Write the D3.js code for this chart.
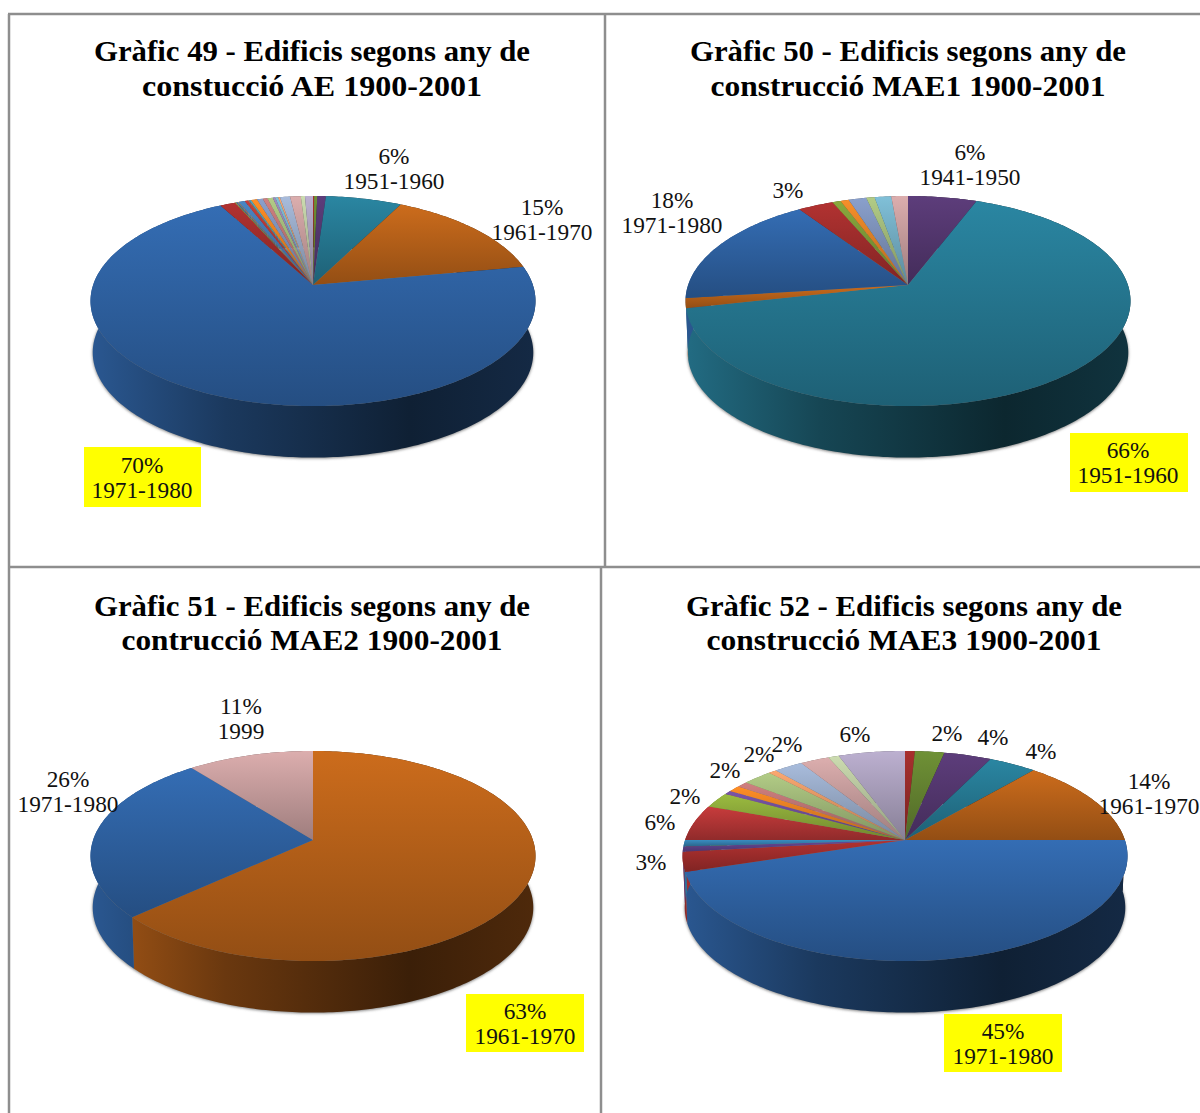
<!DOCTYPE html>
<html>
<head>
<meta charset="utf-8">
<script src="https://cdn.jsdelivr.net/npm/d3@7"></script>
<style>
  html, body { margin: 0; padding: 0; background: #fff; }
  svg { display: block; }
  .title { font-family: "Liberation Serif", serif; font-weight: bold; font-size: 30px; text-anchor: middle; fill: #000; }
  .lbl { font-family: "Liberation Serif", serif; font-size: 23.3px; text-anchor: middle; fill: #111; }
</style>
</head>
<body>
<div id="chart"></div>
<script>
// categories in the order of the source tables
var categories = ["1900-1920", "1921-1930", "1931-1940", "1941-1950", "1951-1960", "1961-1970", "1971-1980",
  "1981", "1982", "1983", "1984", "1985", "1986", "1987", "1988", "1989", "1990", "1991", "1992", "1993",
  "1994", "1995", "1996", "1997", "1998", "1999", "2000", "2001"];

// percentages
var valuesAE   = [0, 0.1, 0.26, 0.72, 6.4, 14.6, 70, 1.3, 0.1, 0.05, 0.1, 0.05, 0.55, 0.3, 0.05, 0.05, 0.15, 0.5, 0.5, 0.4, 0.45, 0.2, 0.25, 0.15, 0.85, 0.9, 0.35, 0.67];
var valuesMAE1 = [0, 0, 0, 5.8, 65.7, 1.5, 17.6, 3, 0.7, 0, 0, 0.7, 0, 0, 0, 0, 0, 0, 1.5, 0, 0.7, 0, 1.4, 0, 0, 1.4, 0, 0];
var valuesMAE2 = [0, 0, 0, 0, 0, 63.2, 26.2, 0, 0, 0, 0, 0, 0, 0, 0, 0, 0, 0, 0, 0, 0, 0, 0, 0, 0, 10.6, 0, 0];
var valuesMAE3 = [0, 0.83, 2.47, 4, 4, 13.7, 45.2, 3, 0, 0.8, 1, 0, 0, 5.6, 2.4, 0.6, 0, 1, 0, 0.9, 2.45, 0, 0, 0.7, 2.4, 2.45, 0.9, 5.6];

var titles = [
  ["Gràfic 49 - Edificis segons any de", "constucció AE 1900-2001"],
  ["Gràfic 50 - Edificis segons any de", "construcció MAE1 1900-2001"],
  ["Gràfic 51 - Edificis segons any de", "contrucció MAE2 1900-2001"],
  ["Gràfic 52 - Edificis segons any de", "construcció MAE3 1900-2001"]
];

// colour of each category
var palette = ["#3a6db2", "#a8302e", "#6f9136", "#5d3d7b", "#2a86a2", "#cc6c1c", "#346db4",
  "#b23231", "#8aa93d", "#6a4a9a", "#3a8cc0", "#f78f2a", "#4a86c4", "#c83c3c", "#9bbb40", "#7a55a8",
  "#4bacc6", "#ff8e26", "#8aa0cc", "#d08080", "#b2cc86", "#a08cc0", "#80c0d8", "#fca870",
  "#a8bcdc", "#dcaeae", "#ccdcb0", "#bcb0d0"];

// one entry per pie: where it sits and which labels are shown
var pies = [
  { values: valuesAE, cx: 313, cy: 285, titleX: 312, titleY: 61, titleGap: 35, titleW: [436, 340],
    labels: [[4, 394, 164, 1], [5, 542, 215, 1], [6, 142, 473, 1, [84, 447, 117, 60]]] },
  { values: valuesMAE1, cx: 908, cy: 285, titleX: 908, titleY: 61, titleGap: 35, titleW: [436, 395],
    labels: [[3, 970, 160, 1], [7, 788, 198, 0], [6, 672, 208, 1], [4, 1128, 458, 1, [1070, 433, 118, 59]]] },
  { values: valuesMAE2, cx: 313, cy: 840, titleX: 312, titleY: 616, titleGap: 34, titleW: [436, 381],
    labels: [[25, 241, 714, 1], [6, 68, 787, 1], [5, 525, 1019, 1, [466, 994, 118, 58]]] },
  { values: valuesMAE3, cx: 905, cy: 840, titleX: 904, titleY: 616, titleGap: 34, titleW: [436, 395],
    labels: [[2, 947, 741, 0], [3, 993, 745, 0], [4, 1041, 759, 0], [5, 1149, 789, 1], [27, 855, 742, 0],
      [25, 787, 752, 0], [24, 759, 762, 0], [20, 725, 778, 0], [14, 685, 804, 0], [13, 660, 830, 0], [7, 651, 870, 0],
      [6, 1003, 1039, 1, [944, 1014, 118, 58]]] }
];

var width = 1200;
var height = 1113;

var radX = 219.9;
var radY = 102.6;
var persp = 0.1524;
var depth = 51.5;
var baseScale = 0.99;

var svg = d3.select("#chart")
  .append("svg")
  .attr("width", width)
  .attr("height", height);

var defs = svg.append("defs");

defs.append("filter")
  .attr("id", "blur")
  .attr("x", "-5%").attr("y", "-5%").attr("width", "110%").attr("height", "110%")
  .append("feGaussianBlur")
  .attr("stdDeviation", 1.6);

function shade(col, f) {
  var c = d3.rgb(col);
  return d3.rgb(c.r * f, c.g * f, c.b * f).formatHex();
}

// top face: each slice fades downwards inside its own box
palette.forEach(function(col, i) {
  var g = defs.append("linearGradient")
    .attr("id", "face" + i)
    .attr("x1", 0).attr("y1", 0).attr("x2", 0).attr("y2", 1);
  g.append("stop").attr("offset", 0).attr("stop-color", col);
  g.append("stop").attr("offset", 1).attr("stop-color", shade(col, 0.72));
});

// point on the tilted disc, angle clockwise from 12 o'clock
function project(p, a, scale, dy) {
  var u = Math.sin(a);
  var v = Math.cos(a);
  var w = 1 + persp * v;
  return [p.cx + scale * radX * u / w, p.cy + dy - radY * v / w];
}

function arcPoints(p, a0, a1, scale, dy) {
  var n = Math.max(2, Math.ceil((a1 - a0) / (Math.PI / 180)));
  return d3.range(n + 1).map(function(k) {
    return project(p, a0 + (a1 - a0) * k / n, scale, dy);
  });
}

var line = d3.line();
var pie = d3.pie().sort(null);

pies.forEach(function(p, pi) {
  var g = svg.append("g");

  // wall gradients run across the whole pie
  palette.forEach(function(col, i) {
    var grad = defs.append("linearGradient")
      .attr("id", "wall" + pi + "_" + i)
      .attr("gradientUnits", "userSpaceOnUse")
      .attr("x1", p.cx - 220).attr("y1", 0)
      .attr("x2", p.cx + 220).attr("y2", 0);
    [[0, 0.8], [0.3, 0.52], [0.72, 0.29], [1, 0.38]].forEach(function(s) {
      grad.append("stop").attr("offset", s[0]).attr("stop-color", shade(col, s[1]));
    });
  });

  var arcs = pie(p.values).filter(function(d) { return d.value > 0; });

  // soft shadow under the pie
  g.append("path")
    .attr("d", line(arcPoints(p, 0, 2 * Math.PI, baseScale, depth + 0.8)) + "Z")
    .attr("fill", "#777")
    .attr("filter", "url(#blur)");

  g.selectAll(".wall")
    .data(arcs)
    .enter()
    .append("path")
    .attr("class", "wall")
    .attr("fill", function(d) { return "url(#wall" + pi + "_" + d.index + ")"; })
    .attr("d", function(d) {
      var top = arcPoints(p, d.startAngle, d.endAngle, 1, 0);
      var bottom = arcPoints(p, d.startAngle, d.endAngle, baseScale, depth).reverse();
      return line(top.concat(bottom)) + "Z";
    });

  g.selectAll(".slice")
    .data(arcs)
    .enter()
    .append("path")
    .attr("class", "slice")
    .attr("fill", function(d) { return "url(#face" + d.index + ")"; })
    .attr("d", function(d) {
      return line([[p.cx, p.cy]].concat(arcPoints(p, d.startAngle, d.endAngle, 1, 0))) + "Z";
    });

  // titles, stretched to the width they have in the source
  titles[pi].forEach(function(t, k) {
    g.append("text")
      .attr("class", "title")
      .attr("x", p.titleX)
      .attr("y", p.titleY + k * p.titleGap)
      .attr("textLength", p.titleW[k])
      .attr("lengthAdjust", "spacingAndGlyphs")
      .text(t);
  });

  // data labels
  var total = d3.sum(p.values);
  p.labels.forEach(function(l) {
    var idx = l[0];
    if (l[4]) {
      g.append("rect")
        .attr("x", l[4][0]).attr("y", l[4][1])
        .attr("width", l[4][2]).attr("height", l[4][3])
        .attr("fill", "#ffff00");
    }
    g.append("text")
      .attr("class", "lbl")
      .attr("x", l[1])
      .attr("y", l[2])
      .text(Math.round(p.values[idx] / total * 100) + "%");
    if (l[3]) {
      g.append("text")
        .attr("class", "lbl")
        .attr("x", l[1])
        .attr("y", l[2] + 24.5)
        .text(categories[idx]);
    }
  });
});

// table borders
var borders = [[9, 14, 9, 1113], [8, 14, 1200, 14], [605, 14, 605, 567], [9, 567, 1200, 567], [601, 567, 601, 1113]];
svg.selectAll(".border")
  .data(borders)
  .enter()
  .append("line")
  .attr("class", "border")
  .attr("x1", function(d) { return d[0]; })
  .attr("y1", function(d) { return d[1]; })
  .attr("x2", function(d) { return d[2]; })
  .attr("y2", function(d) { return d[3]; })
  .attr("stroke", "#8e8e8e")
  .attr("stroke-width", 2.5);
</script>
</body>
</html>
